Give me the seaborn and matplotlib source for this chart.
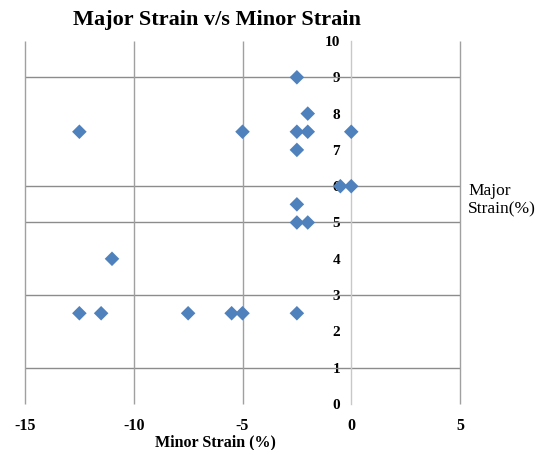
import matplotlib
matplotlib.use("Agg")
import matplotlib.pyplot as plt
import seaborn as sns
import pandas as pd

# Data
minor_strain = [-2.5, -2, -12.5, -5, -2.5, -2, 0, -2.5, -0.5, 0, -2.5, -2.5, -2, -11,
                -12.5, -11.5, -7.5, -5.5, -5, -2.5]
major_strain = [9, 8, 7.5, 7.5, 7.5, 7.5, 7.5, 7, 6, 6, 5.5, 5, 5, 4,
                2.5, 2.5, 2.5, 2.5, 2.5, 2.5]
x_ticks = [-15, -10, -5, 0, 5]
y_ticks = [0, 1, 2, 3, 4, 5, 6, 7, 8, 9, 10]
grid_y = [1, 3, 5, 6, 9]
grid_x = [-15, -10, -5, 5]

df = pd.DataFrame({"minor": minor_strain, "major": major_strain})

sns.set_theme(style="white")
plt.rcParams['font.family'] = ['Liberation Serif', 'DejaVu Serif']
plt.rcParams['font.weight'] = 'bold'
plt.rcParams['text.color'] = 'black'
plt.rcParams['xtick.color'] = 'black'
plt.rcParams['ytick.color'] = 'black'

fig = plt.figure(figsize=(5.55, 4.5), dpi=100)
ax = fig.add_axes([25/555, 1-404/450, (460-25)/555, (404-41)/450])

ax.hlines(grid_y, -15, 5, color="#8c8c8c", lw=1.0, zorder=1, clip_on=False)
ax.vlines(grid_x, 0, 10, color="#a0a0a0", lw=1.0, zorder=1, clip_on=False)

sns.scatterplot(data=df, x="minor", y="major", marker="D", color="#4F81BD",
                s=55, edgecolor="none", ax=ax, zorder=3, legend=False)

ax.set_xlim(-15, 5)
ax.set_ylim(0, 10)
ax.set_xticks(x_ticks)
ax.set_yticks(y_ticks)
ax.set_xticklabels([str(v) for v in x_ticks], fontsize=11.5, fontweight='bold', color='black')
ax.set_yticklabels([str(v) for v in y_ticks], fontsize=10, fontweight='bold', color='black')

for s in ["top", "right", "bottom"]:
    ax.spines[s].set_visible(False)
ax.spines["left"].set_position(("data", 0))
ax.spines["left"].set_color("#c8c8c8")
ax.spines["left"].set_linewidth(1.0)
ax.tick_params(axis="both", length=0)
ax.tick_params(axis="y", pad=8)
ax.tick_params(axis="x", pad=10)
ax.set_xlabel("")
ax.set_ylabel("")
ax.patch.set_alpha(0)

fig.text(217/555, 1-20/450, "Major Strain v/s Minor Strain", ha="center", va="center",
         fontsize=16, fontweight="bold", color="black")
fig.text(215/555, 1-442/450, "Minor Strain (%)", ha="center", va="center",
         fontsize=11.5, fontweight="bold", color="black")
fig.text(468/555, 1-200/450, "Major\nStrain(%)", ha="left", va="center",
         fontsize=12.5, fontweight="normal", linespacing=1.2, color="black")

fig.savefig("out.png", dpi=100)
